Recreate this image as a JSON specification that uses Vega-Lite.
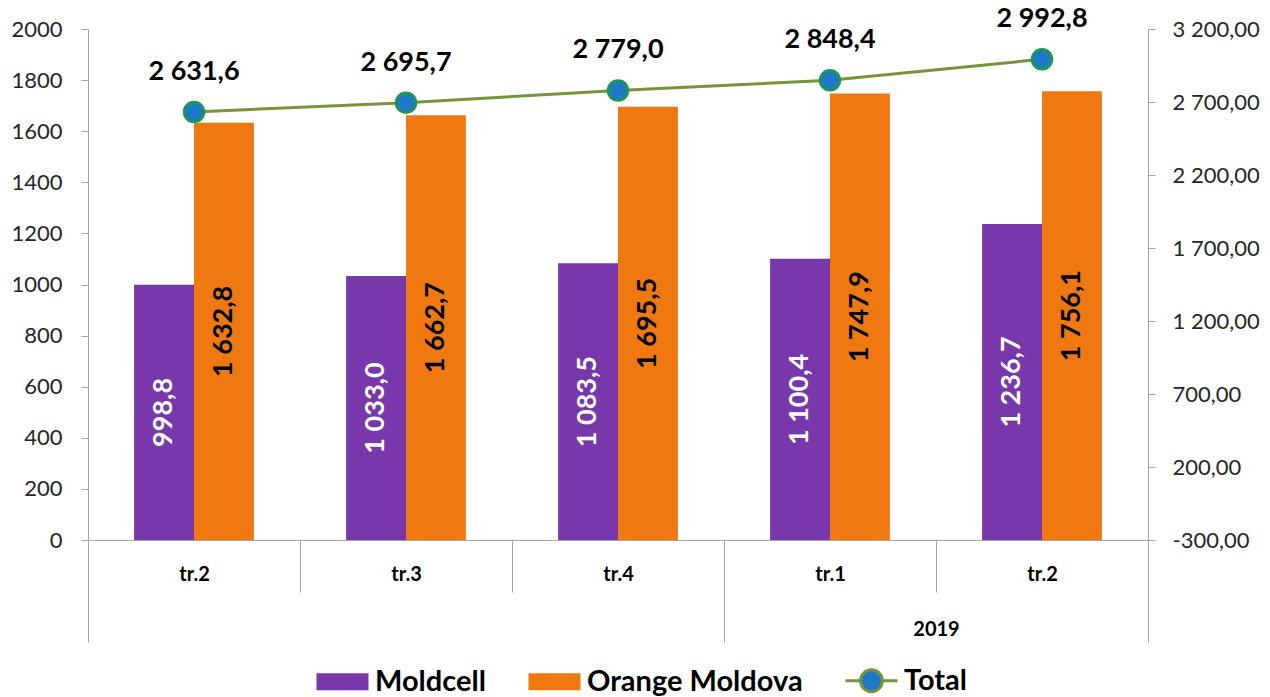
{
  "$schema": "https://vega.github.io/schema/vega-lite/v6.json",
  "width": 1060,
  "height": 511,
  "autosize": {"type": "none"},
  "padding": {"left": 88, "top": 29, "right": 122, "bottom": 157},
  "background": "white",
  "config": {
    "locale": {"number": {"decimal": ",", "thousands": " ", "grouping": [3], "currency": ["", ""], "minus": "-"}},
    "view": {"stroke": null},
    "font": "Lato",
    "axis": {"labelFont": "Lato", "grid": false, "domainColor": "#A6A6A6", "tickColor": "#A6A6A6", "labelColor": "#262626", "title": null}
  },
  "datasets": {
    "bars": [
      {"id": "0tr.2", "series": "Moldcell", "value": 998.8},
      {"id": "0tr.2", "series": "Orange Moldova", "value": 1632.8},
      {"id": "1tr.3", "series": "Moldcell", "value": 1033.0},
      {"id": "1tr.3", "series": "Orange Moldova", "value": 1662.7},
      {"id": "2tr.4", "series": "Moldcell", "value": 1083.5},
      {"id": "2tr.4", "series": "Orange Moldova", "value": 1695.5},
      {"id": "3tr.1", "series": "Moldcell", "value": 1100.4},
      {"id": "3tr.1", "series": "Orange Moldova", "value": 1747.9},
      {"id": "4tr.2", "series": "Moldcell", "value": 1236.7},
      {"id": "4tr.2", "series": "Orange Moldova", "value": 1756.1}
    ],
    "totals": [
      {"id": "0tr.2", "total": 2631.6},
      {"id": "1tr.3", "total": 2695.7},
      {"id": "2tr.4", "total": 2779.0},
      {"id": "3tr.1", "total": 2848.4},
      {"id": "4tr.2", "total": 2992.8}
    ]
  },
  "layer": [
    {
      "layer": [
        {
          "data": {"name": "bars"},
          "mark": {"type": "bar"},
          "encoding": {
            "x": {
              "field": "id", "type": "nominal",
              "scale": {"domain": ["0tr.2", "1tr.3", "2tr.4", "3tr.1", "4tr.2"], "paddingInner": 0, "paddingOuter": 0},
              "axis": {
                "orient": "bottom", "labelAngle": 0, "tickBand": "extent", "tickSize": 52, "labelPadding": -28,
                "labelExpr": "substring(datum.label, 1)", "labelFont": "Lato", "labelFontWeight": "bold",
                "labelFontSize": 20, "labelColor": "black"
              }
            },
            "xOffset": {"field": "series", "type": "nominal", "scale": {"paddingInner": 0, "paddingOuter": 0.77}},
            "y": {
              "field": "value", "type": "quantitative",
              "scale": {"domain": [0, 2000], "nice": false},
              "axis": {"orient": "left", "values": [0, 200, 400, 600, 800, 1000, 1200, 1400, 1600, 1800, 2000], "format": "d", "tickSize": 7, "labelPadding": 19, "labelFontSize": 22}
            },
            "color": {
              "field": "series", "type": "nominal",
              "scale": {"domain": ["Moldcell", "Orange Moldova", "Total"], "range": ["#7837AB", "#F07810", "#1F78C8"]},
              "legend": {
                "title": null, "orient": "none", "direction": "horizontal", "legendX": 227, "legendY": 624,
                "padding": 0, "labelFont": "Lato", "labelFontWeight": "bold", "labelFontSize": 29, "labelColor": "black",
                "symbolSize": 2704, "labelOffset": 5, "columnPadding": 36, "labelLimit": 400,
                "encode": {
                  "symbols": {
                    "update": {
                      "shape": {"signal": "datum.value === 'Total' ? 'M-1,0H-0.42M0.42,0H1M0.42,0A0.42,0.42 0 1 1 -0.42,0A0.42,0.42 0 1 1 0.42,0Z' : 'M-1,-0.33H1V0.33H-1Z'"},
                      "stroke": {"signal": "datum.value === 'Total' ? '#77933C' : 'transparent'"},
                      "strokeWidth": {"value": 3},
                      "opacity": {"value": 1},
                      "fillOpacity": {"value": 1}
                    }
                  }
                }
              }
            }
          }
        },
        {
          "data": {"name": "bars"},
          "mark": {"type": "text", "angle": 270, "align": "center", "baseline": "middle", "font": "Lato", "fontWeight": "bold", "fontSize": 27},
          "encoding": {
            "x": {"field": "id", "type": "nominal"},
            "xOffset": {"field": "series", "type": "nominal", "scale": {"paddingInner": 0, "paddingOuter": 0.77}},
            "y": {"field": "value", "type": "quantitative", "scale": {"domain": [0, 4000], "nice": false}, "axis": null},
            "text": {"field": "value", "type": "quantitative", "format": ",.1f"},
            "color": {"condition": {"test": "datum.series === 'Moldcell'", "value": "white"}, "value": "black"}
          }
        },
        {
          "data": {"name": "totals"},
          "encoding": {
            "x": {"field": "id", "type": "nominal"},
            "y": {
              "field": "total", "type": "quantitative",
              "scale": {"domain": [-300, 3200], "nice": false, "zero": false},
              "axis": {"orient": "right", "values": [-300, 200, 700, 1200, 1700, 2200, 2700, 3200], "format": ",.2f", "tickSize": 7, "labelPadding": 17, "labelFontSize": 22}
            }
          },
          "layer": [
            {"mark": {"type": "line", "color": "#77933C", "strokeWidth": 3}},
            {
              "mark": {"type": "point", "filled": true, "size": 400, "opacity": 1, "stroke": "#1A9A4A", "strokeWidth": 2.5, "shape": "circle"},
              "encoding": {"color": {"datum": "Total"}}
            },
            {
              "mark": {"type": "text", "dy": -40, "align": "center", "baseline": "middle", "font": "Lato", "fontWeight": "bold", "fontSize": 27, "color": "black"},
              "encoding": {"text": {"field": "total", "type": "quantitative", "format": ",.1f"}}
            }
          ]
        }
      ],
      "resolve": {"scale": {"y": "independent"}}
    },
    {
      "data": {"values": [{}]},
      "mark": {"type": "point", "opacity": 0},
      "encoding": {
        "x": {
          "datum": 0, "type": "quantitative",
          "scale": {"domain": [0, 5], "nice": false, "zero": false},
          "axis": {
            "orient": "bottom", "values": [0, 3, 4, 5], "domain": false, "tickSize": 102, "labelPadding": -23,
            "labelExpr": "datum.value == 4 ? '2019' : ''", "labelFont": "Lato", "labelFontWeight": "bold", "labelFontSize": 20, "labelColor": "black",
            "tickOpacity": {"condition": {"test": "datum.value == 4", "value": 0}, "value": 1}
          }
        }
      }
    }
  ],
  "resolve": {"scale": {"x": "independent"}}
}
